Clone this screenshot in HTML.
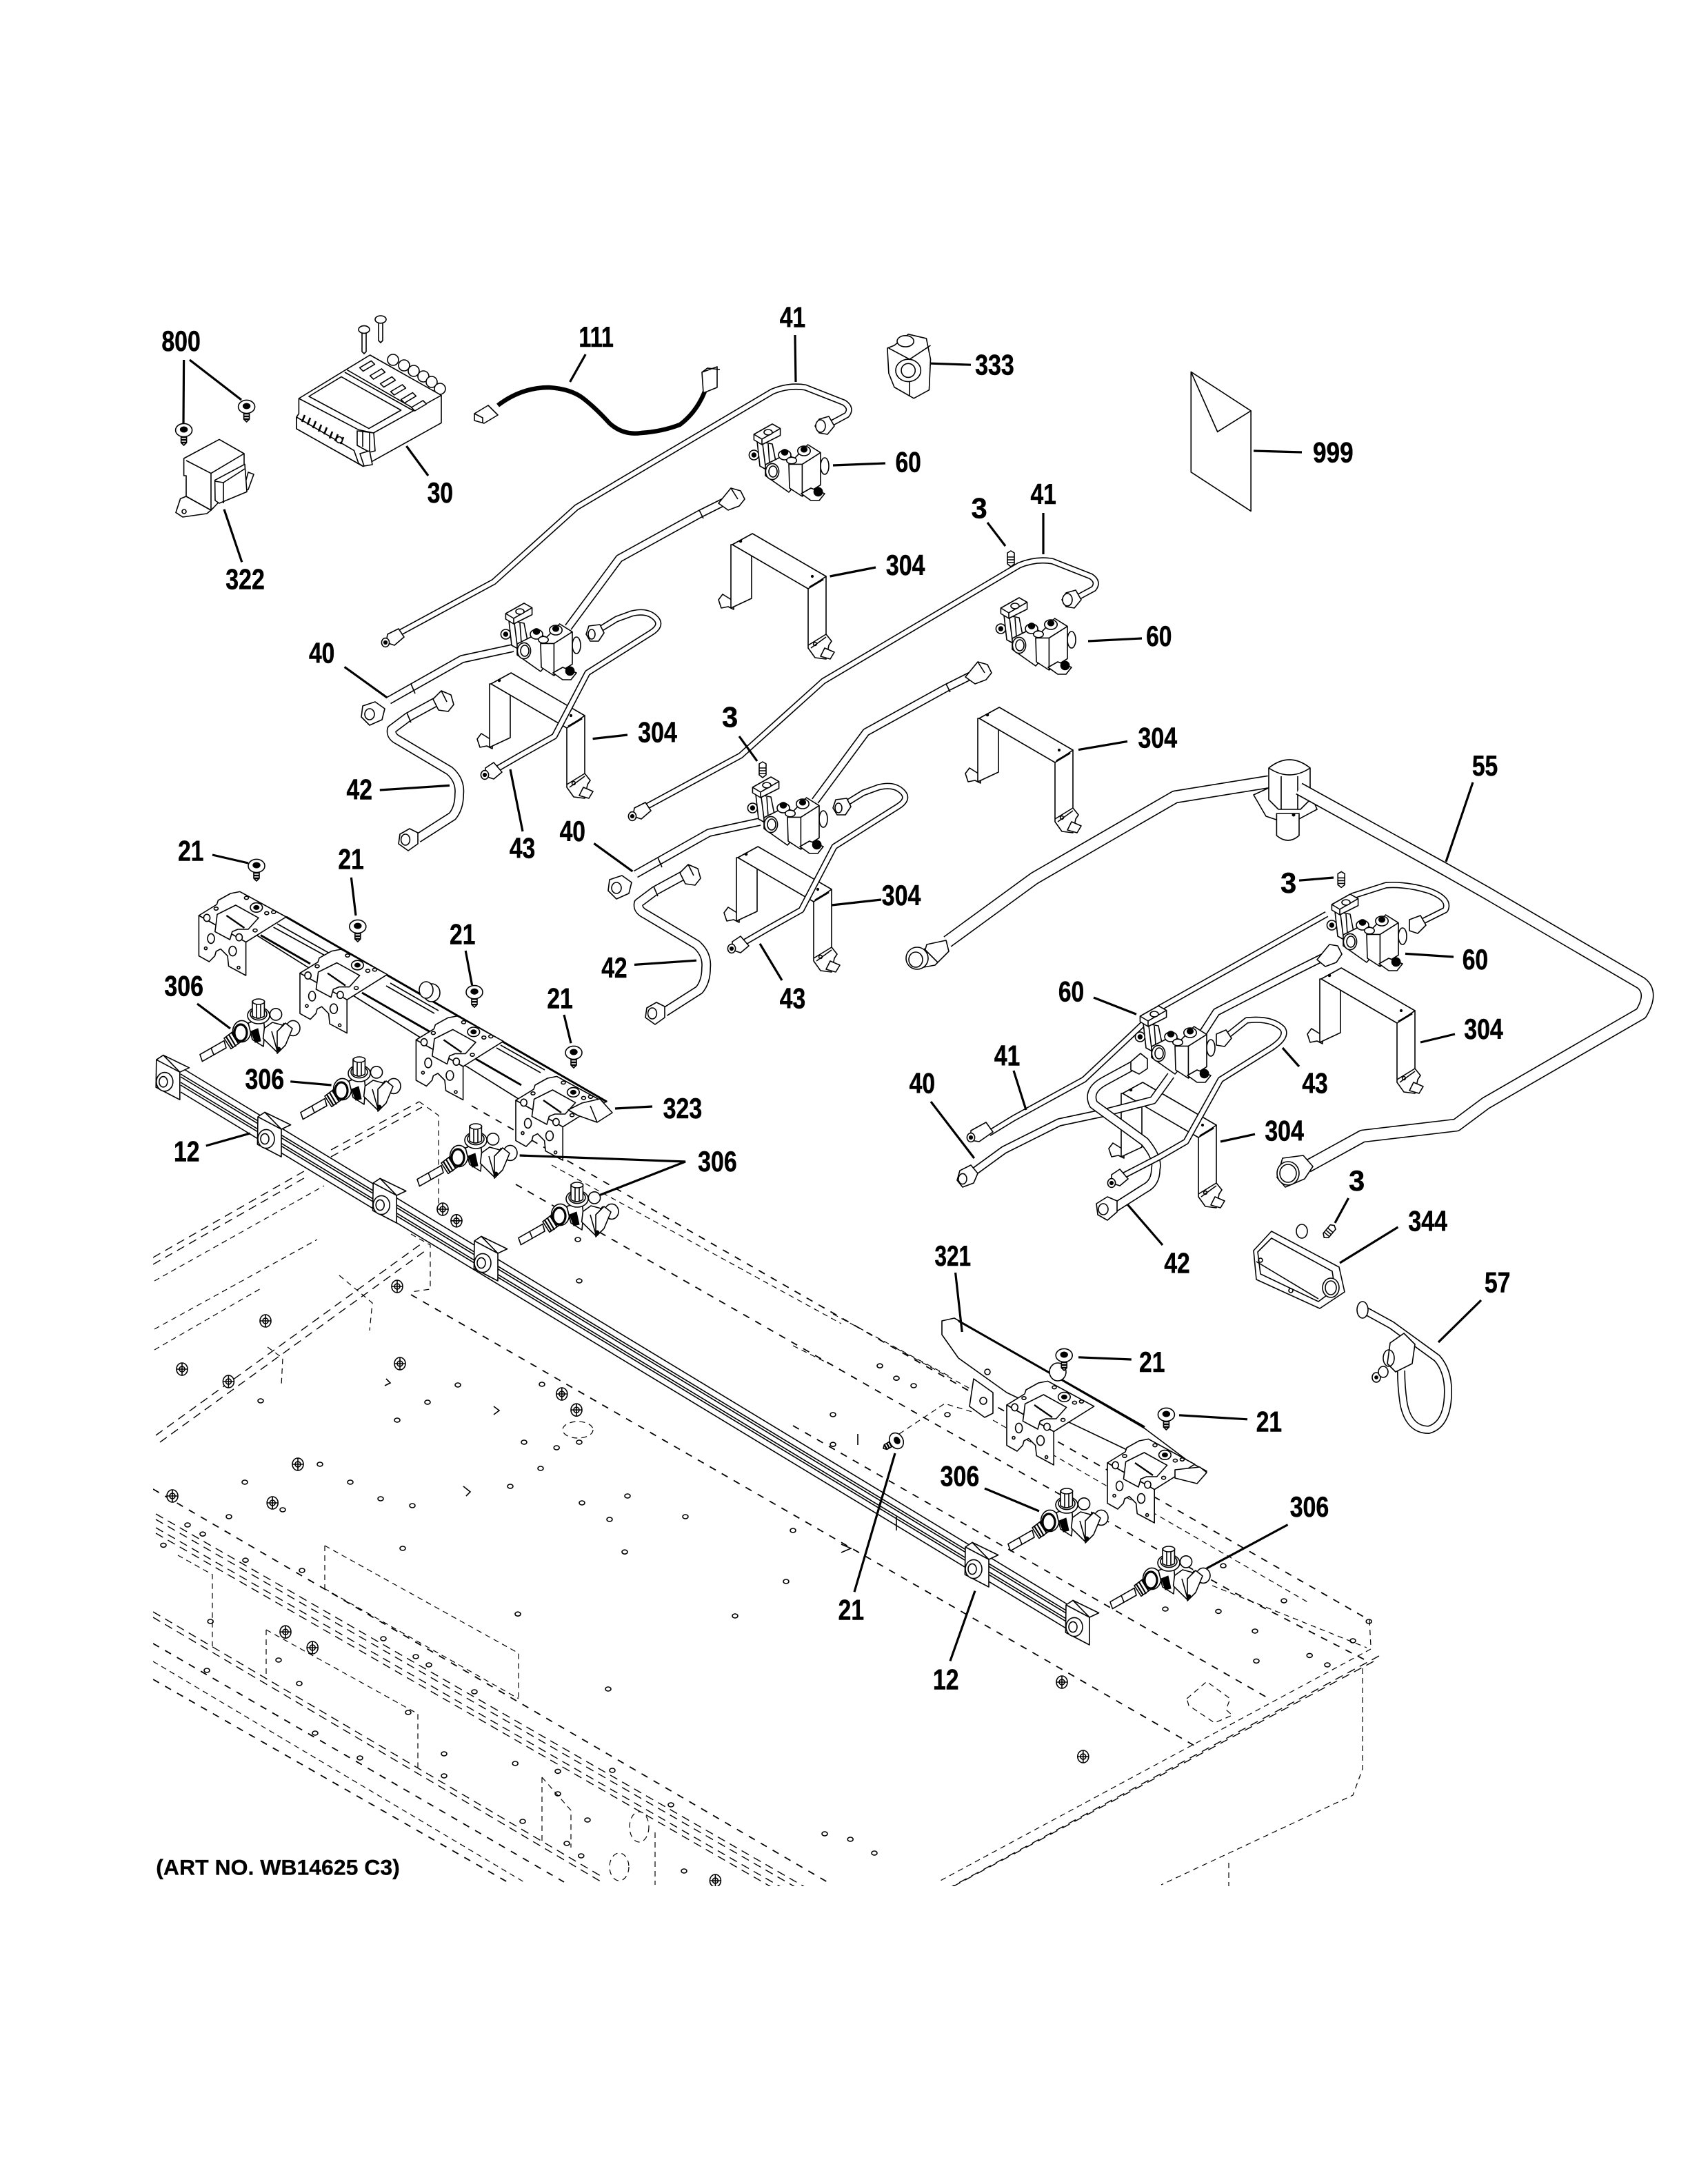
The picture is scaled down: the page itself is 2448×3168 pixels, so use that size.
<!DOCTYPE html>
<html><head><meta charset="utf-8"><title>Diagram</title>
<style>
html,body{margin:0;padding:0;background:#fff}
svg{display:block}
text{font-family:"Liberation Sans",Arial,sans-serif;font-weight:bold;font-size:20.5px;fill:#000;stroke:#000;stroke-width:.25;text-anchor:middle;dominant-baseline:central}
.art{font-size:15.5px;text-anchor:start;stroke-width:.15}
.l{stroke:#000;stroke-width:1.6;fill:none}
.s{stroke:#000;stroke-width:.8;fill:#fff;stroke-linejoin:round}
.n{stroke:#000;stroke-width:.8;fill:none}
.k{fill:#000;stroke:#000;stroke-width:.5}
.d{stroke:#000;stroke-width:.7;fill:none;stroke-dasharray:6 4}
.h{stroke:#000;stroke-width:.9;fill:none;stroke-dasharray:5 5}
.t{stroke:#000;stroke-width:.6;fill:none;stroke-dasharray:4 3}
.o,.i{fill:none;stroke-linejoin:round;stroke-linecap:butt}
.o{stroke:#000}.i{stroke:#fff}
.w4.o{stroke-width:4.6}.w4.i{stroke-width:3}
.w6.o{stroke-width:6}.w6.i{stroke-width:4.4}
.w7.o{stroke-width:7}.w7.i{stroke-width:5.4}
.w9.o{stroke-width:9.5}.w9.i{stroke-width:7.9}
</style></head><body>
<svg xmlns="http://www.w3.org/2000/svg" width="2448" height="3168" viewBox="0 0 1224 1584">
<defs>
<clipPath id="cp"><rect x="111" y="780" width="890" height="588"/></clipPath>
<g id="scr"><path class="s" d="M-2 3H2V9L0 11L-2 9Z"/><path stroke="#000" stroke-width="1.2" d="M-2 5H2M-2 7H2M-2 9H2"/><ellipse class="s" cx="0" cy="0" rx="6" ry="4.8"/><ellipse class="k" cx="0" cy="-.5" rx="2.6" ry="2"/></g>
<g id="sm"><path class="s" d="M-2.5 -4L0 -5.5L2.5 -4V4L0 6L-2.5 4Z"/><path class="n" d="M-2.5 -1H2.5M-2.500 1H2.500M-2.500 3H2.500"/></g>
<g id="v60">
<ellipse class="s" cx="55" cy="31" rx="3" ry="6"/>
<circle class="s" cx="3.700" cy="23" r="3.500"/><circle class="k" cx="3.700" cy="23" r="1.600"/>
<path class="s" d="M6 13L8 31L17 36L20 30L17 15Z"/><path class="n" d="M10 15L12 31M14 15L15 29"/>
<path class="s" d="M3.700 8L17 .5L22.800 3.800V8.800L9.500 15.500L3.700 12Z"/><path class="n" d="M3.700 8L9.500 11.500L22.800 3.800M9.500 11.500V15.500"/><ellipse class="s" cx="14" cy="6.500" rx="3" ry="2"/>
<path class="s" d="M12 30L28 22L36 28V42L29 50L12 38Z"/><ellipse class="s" cx="17" cy="35" rx="4.800" ry="5.800"/><ellipse class="n" cx="17.500" cy="35" rx="3" ry="4"/>
<ellipse class="s" cx="26" cy="23" rx="4.500" ry="3.500"/><ellipse class="k" cx="26" cy="21" rx="2.400" ry="2.200"/>
<path class="s" d="M29 29.700L42.800 15.500L52 21.300V44.700L38.700 53L29.500 47Z"/><path class="n" d="M29 29.700L38.700 29.700L52 21.300M38.700 29.700V53"/>
<ellipse class="s" cx="40" cy="20" rx="4.600" ry="3.500"/><ellipse class="k" cx="40" cy="19" rx="2.300" ry="2"/><ellipse class="s" cx="31" cy="27" rx="3.600" ry="2.400"/>
<path class="s" d="M38 51L45 47L55 51L51 56L45 56Z"/><ellipse class="k" cx="50.300" cy="49.700" rx="3.200" ry="3.200"/>
</g>
<g id="br">
<path class="s" d="M-10 40L-7 36L1 41V47L-3 45L-8 46Z"/>
<path class="s" d="M0 0H14V39L-1 46V0Z"/>
<path class="s" d="M55 32V75L60 82L68 83L70 73L72 70L68 65V23Z"/>
<path class="s" d="M67 75L74 78L71 83L64 81Z"/>
<path class="s" d="M0 0L14.600 -8L68 23L55 32Z"/>
<path class="n" d="M57 75L68 67M55 73L68 65"/><circle class="k" cx="6" cy="-2.500" r=".9"/><circle class="k" cx="58" cy="23" r=".8"/><path stroke="#000" stroke-width="1.400" d="M56 31L66 25"/><circle class="n" cx="60" cy="72" r="1.200"/>
</g>
<g id="rb">
<path class="s" d="M0 0L13 -8L14 -11L23 -16L29.800 -17.300L63.300 1L34.100 19.300Z"/>
<path class="s" d="M0 0L34.100 19.300V43.500L21.600 36.800L20.800 29.300L15.800 24.300L12.500 26L11.600 29.300L7.500 33.500L0 29.300Z"/>
<path class="s" d="M13.300 -.8L26.700 -7.500L43.300 1.700L35.800 10L28.300 10L24.200 11.700L22.500 17.500L11.700 11.700L12.500 5.800Z"/>
<path stroke="#000" stroke-width="1.200" fill="none" d="M20 0L33 9"/>
<ellipse class="s" cx="41.700" cy="-5.800" rx="4.400" ry="3.400"/><ellipse class="k" cx="41.700" cy="-5.800" rx="2" ry="1.500"/>
<ellipse class="s" cx="8.800" cy="16.700" rx="2.500" ry="3.500"/><ellipse class="s" cx="24.500" cy="25.800" rx="2.700" ry="3.500"/>
<ellipse class="n" cx="34.500" cy="-12.800" rx="1.500" ry="1.100"/><ellipse class="n" cx="49.200" cy="-1.700" rx="1.500" ry="1.100"/><ellipse class="n" cx="54.200" cy="-2.500" rx="1.500" ry="1.100"/><ellipse class="n" cx="12.500" cy="-5" rx="1.500" ry="1.100"/><ellipse class="n" cx="40.800" cy="10.800" rx="1.500" ry="1.100"/>
<ellipse class="s" cx="5.800" cy="1.700" rx="2.300" ry="2.600"/><ellipse class="s" cx="29.200" cy="15.800" rx="2.300" ry="2.600"/><circle class="n" cx="5" cy="23.800" r="1"/><circle class="n" cx="28.800" cy="37.800" r="1"/>
</g>
<g id="v306">
<ellipse class="s" cx="55" cy="11.700" rx="4.300" ry="4.300"/>
<ellipse class="s" cx="67.500" cy="21.700" rx="5" ry="5.500"/>
<path class="s" d="M0 40.800L17.500 30.800L19 36L1.700 45.800Z"/><path class="n" d="M8 36L10 41"/>
<path class="s" d="M17.500 29L25 23.300L30.800 30.800L22.500 36.700Z"/><path stroke="#000" stroke-width="1.100" fill="none" d="M19 28L24 36M21 26.500L26 35M23 25L28 33"/>
<ellipse class="s" cx="30.300" cy="24" rx="6.500" ry="7.800"/><ellipse fill="none" stroke="#000" stroke-width="1.600" cx="29.500" cy="25" rx="4.500" ry="6"/>
<path class="s" d="M35 18L46 14L47 24L46 35L38 30Z"/><path class="k" d="M37 24L42 22L44 31L40 32Z"/>
<path class="s" d="M46.700 21.700L52.500 17.500L61.700 20L60 32.500L55.800 39L45.800 29.200Z"/><path class="n" d="M52 24L56 38M61 18L57 24"/><path class="s" d="M56 24L62 18L67 22L62 34L56 40Z"/><circle class="k" cx="57" cy="37" r="1.500"/>
<ellipse class="s" cx="42.500" cy="12.500" rx="8" ry="6"/><ellipse class="n" cx="42.500" cy="11.500" rx="6" ry="4.300"/><path class="s" d="M38 2V13Q42 16 46.700 13V2Z"/><ellipse class="s" cx="42.500" cy="2.500" rx="4.300" ry="2"/><path class="n" d="M41 4.500V14M44 4.500V14"/>
</g>
<g id="bk">
<path class="s" d="M5 -3.300L23.800 5.800L17 9Z"/>
<path class="s" d="M0 0L5 -3.300L17 9V29L-.3 20Z"/>
<path class="n" d="M0 0L17 9"/>
<ellipse class="s" cx="6" cy="16" rx="6" ry="6.800"/><ellipse class="n" cx="5" cy="16" rx="3" ry="3.800"/>
</g>
<g id="set">
<path class="o w4" d="M286 457L358 418L418 364L560 280Q572 275 584 277L612 288Q618 292 614 297L601 304"/>
<path class="i w4" d="M286 457L358 418L418 364L560 280Q572 275 584 277L612 288Q618 292 614 297L601 304"/>
<g><path class="s" d="M281 456L289 452L293 458L286 464L280 462Z"/><ellipse class="s" cx="279.500" cy="462" rx="2.800" ry="3.200"/><circle class="k" cx="279.500" cy="462" r="1.300"/></g>
<path class="s" d="M594 300L601 298L605 305L600 311L594 310L591 305Z"/><ellipse class="s" cx="595" cy="305" rx="3.500" ry="4.500"/>
<use href="#v60" x="543" y="303"/>
<use href="#br" x="531" y="391"/>
<use href="#br" x="356" y="492"/>
<path class="o w6" d="M533 356L507 369L449 401L412 451"/><path class="i w6" d="M533 356L507 369L449 401L412 451"/>
<path class="n" d="M507 366L510 372"/><path class="s" d="M521 361L530 350L537 352L540 358L536 363L528 366Z"/><path class="n" d="M530 350L535 358"/>
<path class="o w6" d="M282 504L335 474L372 466"/><path class="i w6" d="M282 504L335 474L372 466"/><path class="n" d="M298 492L301 499"/>
<path class="s" d="M263 508L272 505L279 510L277 518L268 522L262 516Z"/><ellipse class="n" cx="268" cy="514" rx="3.500" ry="4"/>
<use href="#v60" x="363" y="433"/>
<path class="o w7" d="M318 504L296 516L284 525Q283 530 289 533L326 555Q334 562 333 572Q333 582 328 588L303 604"/><path class="i w7" d="M318 504L296 516L284 525Q283 530 289 533L326 555Q334 562 333 572Q333 582 328 588L303 604"/><path class="n" d="M295 513L298 520"/>
<path class="s" d="M314 503L320 497L327 500L329 507L325 512L318 511Z"/><path class="n" d="M320 497L324 505"/>
<path class="s" d="M290 601L297 597L303 600L303 608L296 613L289 608Z"/><ellipse class="n" cx="294" cy="605" rx="3.200" ry="4"/>
<path class="o w4" d="M358 555L377 544L402 530L426 484L472 455Q480 450 476 445Q470 438 458 441L447 445L434 453"/><path class="i w4" d="M358 555L377 544L402 530L426 484L472 455Q480 450 476 445Q470 438 458 441L447 445L434 453"/>
<path class="s" d="M427 450L435 449L438 455L434 461L428 461L425 456Z"/><ellipse class="n" cx="429" cy="456" rx="2.500" ry="3.500"/>
<path class="s" d="M352 553L358 549L364 556L358 561L352 559Z"/><ellipse class="s" cx="351.500" cy="558" rx="2.800" ry="3.200"/><circle class="k" cx="351.500" cy="558" r="1.300"/>
</g>
<g id="nm"><ellipse class="s" rx="4" ry="4.500"/><circle class="n" r="2"/><path class="n" d="M-4 0H4M0 -4.500V4.500"/></g>
<ellipse id="ho" class="n" rx="2" ry="1.500"/>
</defs>

<g clip-path="url(#cp)">
<g transform="translate(0 4)">
<path class="d" d="M111 908L223 844M111 913L223 849M240 830L304 795M240 835L306 799"/>
<path class="t" d="M304 795L318 805L318 872M112 925L235 856M112 960L230 895M112 975L190 930"/>
<path class="d" d="M113 1037L307 897M116 1042L310 902"/>
</g>
<path class="h" d="M342 802L600 950L993 1175M298 939L866 1266M374 859L675 1031L891 1153L992 1205M111 1080L600 1365M575 1034L922 1233"/>
<path class="t" d="M400 845L610 960M575 976L603 990M650 978L705 1008M993 1175L994 1194M879 1150L991 1195M720 1030L950 1163M604 953L690 999"/>
<path class="d" d="M113 1098L600 1378M113 1102L600 1382M113 1108L600 1388M113 1112L600 1392"/>
<path class="t" d="M129 1128L154 1142V1194M235.500 1121V1152M235.500 1121L376 1199V1232M193 1182V1218M193 1182L303 1243V1283M393 1289V1335M393 1289L414 1313V1340M235 1152L376 1232M475 1329V1367"/>
<path class="d" d="M111 1169L438 1362M111 1173L438 1366"/>
<path class="h" d="M111 1192L409 1365M111 1218L368 1365"/>
<path class="t" d="M111 1205L380 1365"/>
<path class="d" d="M1000 1201L687 1370M996 1205L684 1372"/>
<path class="t" d="M994 1196L680 1365M988 1210V1283L981 1302L842 1367M891 1351V1368M860.600 1232L875 1219.600L892 1232L889 1240L893.600 1244L880.700 1249.500L862 1237Z"/>
<path class="t" d="M652 1040L685 1018L705 1024M298 895L312 903L312 935L298 937M246 925L270 945L268 965M194 977L205 985L204 1005"/>
<path class="n" d="M280 1000l3 3l-4 2M358 1020l4 3l-4 3M336 1078l5 4l-3 3M622 1040v8M610 1120l7 3l-7 3M650 1100v10M1050 1070"/>
<g fill="none">
<use href="#ho" x="332" y="1004.500"/><use href="#ho" x="310" y="1017"/><use href="#ho" x="288" y="1030"/><use href="#ho" x="380" y="1046"/><use href="#ho" x="392" y="1065"/><use href="#ho" x="370" y="1078"/><use href="#ho" x="232" y="1062"/><use href="#ho" x="254" y="1075"/><use href="#ho" x="276" y="1087"/><use href="#ho" x="299" y="1092"/><use href="#ho" x="177.500" y="1075"/><use href="#ho" x="166" y="1100"/><use href="#ho" x="205" y="1095"/><use href="#ho" x="189" y="1016"/><use href="#ho" x="292" y="1123"/><use href="#ho" x="422" y="1090"/><use href="#ho" x="442" y="1102"/><use href="#ho" x="455" y="1085"/><use href="#ho" x="497" y="1100"/><use href="#ho" x="453" y="1125.600"/><use href="#ho" x="575" y="1110"/><use href="#ho" x="570" y="1147"/><use href="#ho" x="533" y="1172"/><use href="#ho" x="375.500" y="1170.600"/><use href="#ho" x="441" y="1225"/><use href="#ho" x="219" y="1139"/><use href="#ho" x="178" y="1131.600"/><use href="#ho" x="136" y="1106"/><use href="#ho" x="147" y="1112.600"/><use href="#ho" x="118.500" y="1120.700"/><use href="#ho" x="403.600" y="1050"/><use href="#ho" x="420" y="1046"/><use href="#ho" x="278" y="1188.500"/><use href="#ho" x="301.500" y="1201.500"/><use href="#ho" x="311" y="1207.500"/><use href="#ho" x="344" y="1227"/><use href="#ho" x="444" y="1284"/><use href="#ho" x="486.500" y="1309"/><use href="#ho" x="296" y="1242"/><use href="#ho" x="322" y="1272"/><use href="#ho" x="322" y="1288"/><use href="#ho" x="373.600" y="1279"/><use href="#ho" x="379" y="1321"/><use href="#ho" x="404.500" y="1284.700"/><use href="#ho" x="404.500" y="1301"/><use href="#ho" x="426" y="1320"/><use href="#ho" x="411" y="1337"/><use href="#ho" x="421.400" y="1346"/><use href="#ho" x="496" y="1357"/><use href="#ho" x="598" y="1330"/><use href="#ho" x="150" y="1211.500"/><use href="#ho" x="228.500" y="1257"/><use href="#ho" x="261" y="1275"/><use href="#ho" x="217" y="1221"/><use href="#ho" x="202" y="1204"/><use href="#ho" x="152.600" y="1176"/>
<use href="#ho" x="604" y="1026"/><use href="#ho" x="604" y="1047.600"/><use href="#ho" x="638" y="990.600"/><use href="#ho" x="650" y="999.600"/><use href="#ho" x="662.500" y="1005"/><use href="#ho" x="687" y="1026"/><use href="#ho" x="845" y="1167"/><use href="#ho" x="883.500" y="1168.700"/><use href="#ho" x="931" y="1161"/><use href="#ho" x="887" y="1135.600"/><use href="#ho" x="910" y="1183"/><use href="#ho" x="911" y="1204.700"/><use href="#ho" x="949.600" y="1200.700"/><use href="#ho" x="962.500" y="1207.500"/><use href="#ho" x="981" y="1190"/><use href="#ho" x="992.600" y="1176"/><use href="#ho" x="616.600" y="1334"/><use href="#ho" x="634" y="1344"/><use href="#ho" x="352" y="914"/><use href="#ho" x="419" y="899"/><use href="#ho" x="420" y="929"/><use href="#ho" x="393" y="1004"/>
</g>
<use href="#nm" x="192.500" y="958"/><use href="#nm" x="132" y="993"/><use href="#nm" x="165.700" y="1002"/><use href="#nm" x="290" y="989"/><use href="#nm" x="407.400" y="1011"/><use href="#nm" x="418" y="1022.600"/><use href="#nm" x="216" y="1062"/><use href="#nm" x="197.600" y="1090"/><use href="#nm" x="125" y="1085"/><use href="#nm" x="207" y="1183.600"/><use href="#nm" x="226.600" y="1195"/><use href="#nm" x="518.700" y="1364"/><use href="#nm" x="321" y="877"/><use href="#nm" x="331" y="885.400"/><use href="#nm" x="288" y="933"/><use href="#nm" x="770" y="1220"/><use href="#nm" x="785.400" y="1274"/>
<ellipse class="t" cx="419" cy="1037" rx="11" ry="6"/><ellipse class="t" cx="463.500" cy="1325" rx="7" ry="11"/><ellipse class="t" cx="449" cy="1354" rx="7" ry="10"/>
</g>

<!-- 12 rail -->
<path class="n" d="M131 774L778 1166M131 779L778 1171M131 781L778 1173M131 785L778 1177M131 787L778 1179M131 792L778 1184"/>
<use href="#bk" x="113.400" y="768.600"/><use href="#bk" x="187" y="810"/><use href="#bk" x="270.600" y="858"/><use href="#bk" x="344" y="900"/><use href="#bk" x="700" y="1122"/><use href="#bk" x="773" y="1164"/>

<!-- burner rails -->
<path class="s" d="M176 672L207 665L440 799L400 812Z"/>
<path class="n" d="M198.300 672.500L237.500 694M201 670L240 692M280 715L315 735M283 713L318 733M360 760L392 778M363 758L395 776"/>
<path stroke="#000" stroke-width="1.500" fill="none" d="M207.500 665L440 799M189 678.300L225 699M262.500 720L311.700 748.300M345 768L378 787"/>
<ellipse class="s" cx="313" cy="720" rx="6" ry="6.500"/><ellipse class="s" cx="309" cy="718" rx="5" ry="6"/>
<use href="#rb" x="144.200" y="664"/><use href="#rb" x="217.500" y="705.800"/><use href="#rb" x="301.700" y="754.200"/><use href="#rb" x="374" y="798"/>
<path class="s" d="M422 800L435 797L444 807L433 814L419 809L412 805Z"/><path class="n" d="M428 802L433 814"/>

<path class="s" d="M683 958L692 956L830 1036L862 1060L875 1067L868 1075L835 1060L730 1010L695 985L683 968Z"/>
<path stroke="#000" stroke-width="1.500" fill="none" d="M695 958L830 1035"/>
<circle class="n" cx="716" cy="995" r="2"/>
<path class="s" d="M706 1000L720 1010V1025L714 1028L703 1020Z"/><circle class="n" cx="713" cy="1016" r="2.500"/>
<ellipse class="s" cx="767" cy="995" rx="6" ry="6.500"/>
<use href="#rb" x="730" y="1019"/><use href="#rb" x="803" y="1061"/>
<path class="s" d="M852 1066L870 1064L875 1068L868 1076L852 1072Z"/>

<!-- 306 valves -->
<use href="#v306" x="145" y="724"/><use href="#v306" x="218" y="766"/><use href="#v306" x="302.500" y="814.500"/><use href="#v306" x="376" y="857"/><use href="#v306" x="731" y="1079"/><use href="#v306" x="805" y="1121"/>

<!-- pipe sets -->
<use href="#set" transform="translate(0 4)"/>
<use href="#set" transform="translate(179 130)"/>

<!-- 55 -->
<path class="o w9" d="M687 683L713 664L750 637L852 578L920 567"/><path class="i w9" d="M687 683L713 664L750 637L852 578L920 567"/>
<path class="s" d="M909 576.500L921 571L950 575L955 587L935 597.700L918 592Z"/>
<path class="s" d="M925.700 590V606Q934 613 942 606V590Z"/>
<path class="s" d="M920 557Q935 545 950 557V580L943 587H927L920 580Z"/><path class="n" d="M920 557Q935 567 950 557M929 563V587M941 563V587"/>
<ellipse class="k" cx="938" cy="591" rx="1" ry="1"/>
<path class="o w9" d="M942 572L1047 630L1077 647L1190 713Q1199 720 1190 735L1077.500 800L1056 816L988 824L948 846"/><path class="i w9" d="M942 572L1047 630L1077 647L1190 713Q1199 720 1190 735L1077.500 800L1056 816L988 824L948 846"/>
<path class="s" d="M672 685L686 682L688 690L678 700L667 702Z"/><path class="n" d="M670 688L680 698"/><ellipse class="s" cx="665" cy="695" rx="8" ry="8"/><ellipse class="n" cx="664" cy="696" rx="5" ry="5.500"/>
<path class="s" d="M930 840L945 838L952 846L946 855L932 861L926 854Z"/><ellipse class="s" cx="934" cy="851" rx="8" ry="8.500"/><ellipse class="n" cx="934" cy="851" rx="6" ry="6.500"/>

<!-- right set -->
<use href="#br" x="958" y="710"/><use href="#br" x="814" y="793"/>
<path class="o w4" d="M962 663L841 731L819 752L786 783L735 811L717 822"/><path class="i w4" d="M962 663L841 731L819 752L786 783L735 811L717 822"/>
<path class="s" d="M704 820L715 814L720 821L710 828L704 827Z"/><ellipse class="s" cx="704" cy="825" rx="2.800" ry="3.200"/><circle class="k" cx="704" cy="825" r="1.300"/>
<path class="o w4" d="M980 650L1005 642Q1020 641 1036 646Q1052 652 1048 660L1030 669"/><path class="i w4" d="M980 650L1005 642Q1020 641 1036 646Q1052 652 1048 660L1030 669"/>
<path class="s" d="M1022 667L1030 664L1034 671L1028 677L1022 675Z"/>
<path class="o w6" d="M964 692L938 705L882 734L871 751"/><path class="i w6" d="M964 692L938 705L882 734L871 751"/>
<path class="s" d="M955 696L964 685L970 686L973 692L969 698L961 701Z"/>
<path class="o w6" d="M706 850L728 834L768 814L801 807L836 798L849 780"/><path class="i w6" d="M706 850L728 834L768 814L801 807L836 798L849 780"/>
<path class="s" d="M696 849L704 845L709 851L706 858L698 861L694 856Z"/><ellipse class="n" cx="698" cy="855" rx="3" ry="3.800"/>
<use href="#v60" x="823" y="729"/><use href="#v60" x="962" y="648"/>
<path class="o w7" d="M823 772L801 784Q788 791 793 801L830 828Q840 840 838 848Q838 858 830 862L808 876"/><path class="i w7" d="M823 772L801 784Q788 791 793 801L830 828Q840 840 838 848Q838 858 830 862L808 876"/>
<path class="s" d="M820 770L827 764L832 768L832 775L826 779L820 776Z"/>
<path class="s" d="M795 873L803 868L810 871L810 879L803 885L796 881Z"/><ellipse class="n" cx="800" cy="877" rx="3.500" ry="4"/>
<path class="o w4" d="M812 854L841 839L860 828L885 783L922 760Q934 752 930 746Q922 738 904 740L889 752"/><path class="i w4" d="M812 854L841 839L860 828L885 783L922 760Q934 752 930 746Q922 738 904 740L889 752"/>
<path class="s" d="M882 750L889 747L893 753L888 759L882 758Z"/>
<path class="s" d="M806 852L812 848L818 855L812 860L806 858Z"/><ellipse class="s" cx="806" cy="858" rx="2.800" ry="3.200"/><circle class="k" cx="806" cy="858" r="1.300"/>

<!-- 30 module -->
<g class="s"><circle cx="285" cy="261" r="4"/><circle cx="293" cy="265" r="4"/><circle cx="300" cy="269" r="4"/><circle cx="307" cy="273" r="4"/><circle cx="313" cy="277" r="4"/><circle cx="319" cy="282" r="4"/></g>
<path class="s" d="M216.700 289L268.300 257.500L320 286.700V306.700L263.300 338.300L215 310.800V302.500L216.700 300Z"/>
<path class="n" d="M216.700 289L260 311.700L270.800 314L320 286.700M251.700 268.300L300.800 296.700M250 270L300 298"/>
<path class="s" d="M224 287.500L247.500 273.300L290.800 297.500L267.500 310.800Z"/>
<path class="s" d="M215 302.500L256.700 326.700L260 336L263 338L215 311Z"/>
<path stroke="#000" stroke-width="1.300" fill="none" d="M221 301L219 306M225 303L223 308M229 305.500L227 310.500M233 308L231 313M237 310L235 315M241 313L239 318M245 315L243 320M249 317L247 322"/>
<path class="s" d="M259 312.500L271 314L272 327L268 328L259 323Z"/><path class="n" d="M263 313V324M268 314V328"/>
<path class="s" d="M261 329L268 327L270 337L264 338Z"/>
<circle class="s" cx="246" cy="319" r="2.200"/>
<g class="s"><path d="M260.800 266.700L269.200 261.700L271.700 264.200L263.300 269.200Z"/><path d="M268.300 272.500L276.700 267.500L279.200 270L270.800 275Z"/><path d="M275.800 278.300L284.200 273.300L286.700 275.800L278.300 280.800Z"/><path d="M283.300 284L291.700 279L294.200 281.500L285.800 286.500Z"/><path d="M290.800 289.800L299.200 284.800L301.700 287.300L293.300 292.300Z"/><path d="M298.300 295.500L306.700 290.500L309.200 293L300.800 298Z"/></g>
<path class="s" d="M262.500 241H265.500V255L264 256.500L262.500 255Z"/><ellipse class="s" cx="264" cy="239" rx="4" ry="2.700"/><path class="s" d="M274.500 233H277.500V247L276 248.500L274.500 247Z"/><ellipse class="s" cx="276" cy="231.700" rx="4" ry="2.700"/>

<!-- 322 transformer -->
<path class="s" d="M180 342.500L184 344L180 355L176 357Z"/>
<path class="s" d="M130.800 361.700L135 360L153 370L150 372.500L132.500 375L127.500 371.700Z"/><circle class="n" cx="133.500" cy="371" r="1.500"/>
<path class="s" d="M133.300 332.500L159 318.700L177 329V345L155 368L153 370L135 360V345L133.300 345Z"/>
<path class="n" d="M135 334L153 343.300L177 329M153 343.300V370"/>
<path class="s" d="M155.800 348.300L177.500 336.700L179 356.700L159 365L156 363Z"/><path class="n" d="M155.800 349L162 350V365M162 350L177.500 340"/>

<!-- 111 wire -->
<path fill="none" stroke="#000" stroke-width="3.200" d="M361 294Q378 281 398 281Q414 282 423 289Q432 296 442 307Q452 316 465 314Q480 313 493 308Q505 299 511 284"/>
<path class="s" d="M344 300L354 294L361 301L351 307L344 305Z"/><path class="n" d="M344 300L350 303V307"/>
<path class="s" d="M509 270L520 266L520 281L510 285Z"/><path class="n" d="M509 270L513 267L522 268"/>

<!-- 333, 999 (scaled to reference position) -->
<g transform="scale(1.0101)">
<path class="s" d="M642 248L652 240L665 243L668 258L667 280L656 286L642 278L638 268L637 250Z"/>
<path class="n" d="M638 250L653 258L668 248M653 258V284"/>
<ellipse class="s" cx="652" cy="266" rx="9" ry="8"/><ellipse class="n" cx="652" cy="266" rx="5" ry="5"/>
<ellipse class="s" cx="650" cy="245" rx="6" ry="4"/>
<path class="s" d="M855 267L898 295V367L855 339Z"/><path class="n" d="M855 267L874 310L898 295"/>
</g>

<!-- 344 -->
<ellipse class="s" cx="944" cy="893" rx="4" ry="5"/>
<path class="s" d="M909 907L922 893L971 919L975 937L957 949L911 928Z"/><path class="n" d="M912 908L922 898L966 922L968 935L956 944L914 924Z"/><path class="n" d="M911 915L956 942"/><ellipse class="n" cx="914" cy="914" rx="1.500" ry="1.500"/><ellipse class="n" cx="936" cy="936" rx="1.500" ry="1.500"/>
<ellipse class="s" cx="965" cy="934" rx="6" ry="7"/><ellipse class="n" cx="965" cy="934" rx="4" ry="5"/>

<!-- 57 -->
<g transform="translate(4 9)">
<path class="o w6" d="M985 941L1005 952L1038 976Q1046 985 1046 1000Q1046 1024 1032 1028Q1018 1028 1014 1010Q1012 998 1012 985"/><path class="i w6" d="M985 941L1005 952L1038 976Q1046 985 1046 1000Q1046 1024 1032 1028Q1018 1028 1014 1010Q1012 998 1012 985"/>
<ellipse class="s" cx="984" cy="941" rx="4" ry="6"/>
<path class="s" d="M1004 965L1014 958L1022 966L1020 980L1008 986L1002 980Z"/><ellipse class="n" cx="1003" cy="976" rx="4" ry="6"/>
<ellipse class="s" cx="994" cy="990" rx="3" ry="3.500"/><circle class="k" cx="994" cy="990" r="1.200"/>
<ellipse class="s" cx="999" cy="986" rx="3.500" ry="4"/>
</g>

<!-- screws -->
<use href="#scr" x="133.300" y="312"/><use href="#scr" x="178.800" y="295"/>
<use href="#scr" x="186" y="628"/><use href="#scr" x="259.400" y="672"/><use href="#scr" x="344" y="719.600"/><use href="#scr" x="416" y="763.500"/>
<use href="#scr" x="771.600" y="983"/><use href="#scr" x="845.700" y="1026"/>
<g transform="rotate(60 650 1045)"><use href="#scr" x="650" y="1045"/></g>
<use href="#sm" x="733" y="405"/><use href="#sm" x="553" y="558"/><use href="#sm" x="972.600" y="637.700"/>
<g transform="rotate(40 964 893)"><use href="#sm" x="964" y="893"/></g>

<!-- leaders -->
<path class="l" d="M133.300 261L133 307.500M137.500 261L175 290M424.600 257L413.300 277M576.500 243L577 277M704 264.600L675 263.600M944 328L909 327M310.500 345L294.700 323.500M175.400 407.700L162.500 369.400M642 336L604 337.500M635 411.500L601.800 418M249.800 483.700L280.700 506M455 533L429.800 535.800M275.400 573L326 569.700M370 558L379 603M536 534L549 552M716 379L729 396M756.500 372V402M828 463L789 465M817.500 537.700L782 543.800"/>
<path class="l" d="M154 620L180 626M254.700 636.400L258 664M337.600 689.500L342.300 714.500M409 736L414 756.600M143 728L167 746M210.600 784.400L240.300 787M446 804L473 802.500M149.400 831L181.300 822M376.800 838L497 842.500L434.800 866.800M430.700 611.700L458.700 632M460 699.700L505 696.600M551 684.400L567 711M639 652.500L603 656.500"/>
<path class="l" d="M1054 694L1019 691.700M942 638.600L967 636.500M1068 567.400L1048.500 625M793 723.500L824 735.600M735 776.500L744 805M675 799L706.400 840M930 760L942 773.500M1055 750L1030 756M910 822.600L885 828M843 903L817.500 873.500M977.800 869L968 887M1013.700 890L971.500 916M1074 943L1043 973.500M692.800 923L697.600 966"/>
<path class="l" d="M782 984.400L820.400 986M855 1026.400L904.500 1029.400M714 1079.500L753.500 1096M933.800 1105.800L875 1137.500M649 1054L619.500 1154.600M707 1153.800L689 1204.700"/>

<!-- labels -->
<g transform="scale(1.0101)">
<text x="130" y="245" textLength="28" lengthAdjust="spacingAndGlyphs">800</text>
<text x="428" y="242" textLength="25" lengthAdjust="spacingAndGlyphs">111</text>
<text x="569" y="228" textLength="18.500" lengthAdjust="spacingAndGlyphs">41</text>
<text x="714" y="262" textLength="28" lengthAdjust="spacingAndGlyphs">333</text>
<text x="957" y="325" textLength="29" lengthAdjust="spacingAndGlyphs">999</text>
<text x="316" y="354" textLength="18.500" lengthAdjust="spacingAndGlyphs">30</text>
<text x="652" y="332" textLength="18.500" lengthAdjust="spacingAndGlyphs">60</text>
<text x="176" y="416" textLength="28" lengthAdjust="spacingAndGlyphs">322</text>
<text x="650" y="406" textLength="28" lengthAdjust="spacingAndGlyphs">304</text>
<text x="703" y="365">3</text>
<text x="749" y="355" textLength="18.500" lengthAdjust="spacingAndGlyphs">41</text>
<text x="832" y="457" textLength="18.500" lengthAdjust="spacingAndGlyphs">60</text>
<text x="231" y="469" textLength="18.500" lengthAdjust="spacingAndGlyphs">40</text>
<text x="472" y="526" textLength="28" lengthAdjust="spacingAndGlyphs">304</text>
<text x="524" y="515">3</text>
<text x="831" y="530" textLength="28" lengthAdjust="spacingAndGlyphs">304</text>
<text x="258" y="567" textLength="18.500" lengthAdjust="spacingAndGlyphs">42</text>
<text x="375" y="609" textLength="18.500" lengthAdjust="spacingAndGlyphs">43</text>
<text x="1066" y="550" textLength="18.500" lengthAdjust="spacingAndGlyphs">55</text>
<text x="411" y="597" textLength="18.500" lengthAdjust="spacingAndGlyphs">40</text>
<text x="647" y="643" textLength="28" lengthAdjust="spacingAndGlyphs">304</text>
<text x="925" y="634">3</text>
<text x="1059" y="689" textLength="18.500" lengthAdjust="spacingAndGlyphs">60</text>
<text x="441" y="695" textLength="18.500" lengthAdjust="spacingAndGlyphs">42</text>
<text x="569" y="717" textLength="18.500" lengthAdjust="spacingAndGlyphs">43</text>
<text x="137" y="611" textLength="18.500" lengthAdjust="spacingAndGlyphs">21</text>
<text x="252" y="617" textLength="18.500" lengthAdjust="spacingAndGlyphs">21</text>
<text x="332" y="671" textLength="18.500" lengthAdjust="spacingAndGlyphs">21</text>
<text x="402" y="717" textLength="18.500" lengthAdjust="spacingAndGlyphs">21</text>
<text x="132" y="708" textLength="28" lengthAdjust="spacingAndGlyphs">306</text>
<text x="190" y="775" textLength="28" lengthAdjust="spacingAndGlyphs">306</text>
<text x="490" y="796" textLength="28" lengthAdjust="spacingAndGlyphs">323</text>
<text x="134" y="827" textLength="18.500" lengthAdjust="spacingAndGlyphs">12</text>
<text x="515" y="834" textLength="28" lengthAdjust="spacingAndGlyphs">306</text>
<text x="769" y="712" textLength="18.500" lengthAdjust="spacingAndGlyphs">60</text>
<text x="1065" y="739" textLength="28" lengthAdjust="spacingAndGlyphs">304</text>
<text x="723" y="758" textLength="18.500" lengthAdjust="spacingAndGlyphs">41</text>
<text x="944" y="778" textLength="18.500" lengthAdjust="spacingAndGlyphs">43</text>
<text x="662" y="778" textLength="18.500" lengthAdjust="spacingAndGlyphs">40</text>
<text x="922" y="812" textLength="28" lengthAdjust="spacingAndGlyphs">304</text>
<text x="974" y="848">3</text>
<text x="1025" y="877" textLength="28" lengthAdjust="spacingAndGlyphs">344</text>
<text x="845" y="907" textLength="18.500" lengthAdjust="spacingAndGlyphs">42</text>
<text x="684" y="902" textLength="26" lengthAdjust="spacingAndGlyphs">321</text>
<text x="1075" y="921" textLength="18.500" lengthAdjust="spacingAndGlyphs">57</text>
<text x="827" y="978" textLength="18.500" lengthAdjust="spacingAndGlyphs">21</text>
<text x="911" y="1021" textLength="18.500" lengthAdjust="spacingAndGlyphs">21</text>
<text x="689" y="1060" textLength="28" lengthAdjust="spacingAndGlyphs">306</text>
<text x="940" y="1082" textLength="28" lengthAdjust="spacingAndGlyphs">306</text>
<text x="611" y="1156" textLength="18.500" lengthAdjust="spacingAndGlyphs">21</text>
<text x="679" y="1206" textLength="18.500" lengthAdjust="spacingAndGlyphs">12</text>
<text class="art" x="112" y="1341" textLength="175" lengthAdjust="spacingAndGlyphs">(ART NO. WB14625 C3)</text>
</g>
</svg>
</body></html>
